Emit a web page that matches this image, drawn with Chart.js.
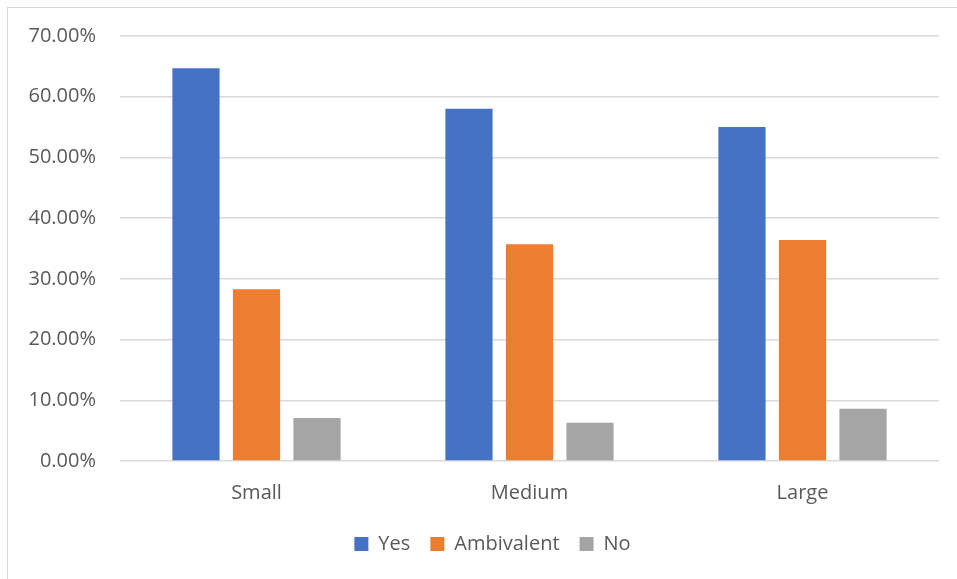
<!DOCTYPE html>
<html lang="en">
<head>
	<meta charset="UTF-8">
	<title>Yes / Ambivalent / No by size</title>
	<script src="https://cdn.jsdelivr.net/npm/chart.js"></script>
	<style>
		html, body { margin: 0; padding: 0; background: #fff; overflow: hidden; }
		#wrap { position: relative; width: 957px; height: 579px; }
		#frame { position: absolute; left: 7px; top: 7px; width: 980px; height: 600px; border: 1px solid #d9d9d9; box-sizing: border-box; }
		#wrap canvas { position: absolute; left: 0; top: 0; }
	</style>
</head>
<body>
	<div id="wrap">
		<div id="frame"></div>
		<canvas id="myChart" width="957" height="579"></canvas>
	</div>

	<script type="text/javascript">
		// data (percent)
		var categories = ['Small', 'Medium', 'Large'];
		var yesValues = [64.7, 58.0, 55.0];
		var ambivalentValues = [28.3, 35.7, 36.4];
		var noValues = [7.1, 6.3, 8.6];
		var yTicks = [0, 10, 20, 30, 40, 50, 60, 70];

		var textColor = '#595959';
		var fontFamily = '"Open Sans", "Noto Sans", sans-serif';

		Chart.defaults.font.family = fontFamily;
		Chart.defaults.font.size = 20;
		Chart.defaults.color = textColor;

		// the legend in the original sits a bit right of the canvas centre
		var legendShift = {
			id: 'legendShift',
			afterLayout: function(chart) {
				if (chart.legend) {
					chart.legend.left += 23;
					chart.legend.right += 23;
				}
			}
		};

		var ctx = document.getElementById('myChart');
		var myChart = new Chart(ctx, {
			type: 'bar',
			data: {
				labels: categories,
				datasets: [
					{ label: 'Yes', data: yesValues, backgroundColor: '#4472C4' },
					{ label: 'Ambivalent', data: ambivalentValues, backgroundColor: '#ED7D31' },
					{ label: 'No', data: noValues, backgroundColor: '#A5A5A5' }
				]
			},
			plugins: [legendShift],
			options: {
				responsive: false,
				animation: false,
				layout: { padding: { top: 36, right: 18, bottom: 15, left: 0 } },
				datasets: {
					bar: { categoryPercentage: 0.665, barPercentage: 0.78 }
				},
				scales: {
					x: {
						grid: { display: false, drawTicks: false },
						border: { display: false },
						ticks: { padding: 20 },
						afterFit: function(scale) { scale.height = 53; }
					},
					y: {
						min: yTicks[0],
						max: yTicks[yTicks.length - 1],
						afterBuildTicks: function(scale) {
							scale.ticks = yTicks.map(function(v) { return { value: v }; });
						},
						grid: { color: '#d9d9d9', lineWidth: 1.5, drawTicks: false },
						border: { display: false },
						ticks: {
							padding: 24,
							callback: function(v) { return v.toFixed(2) + '%'; }
						},
						afterFit: function(scale) { scale.width = 120; }
					}
				},
				plugins: {
					legend: {
						position: 'bottom',
						labels: { boxWidth: 14, boxHeight: 14, padding: 20, font: { size: 20 } }
					},
					tooltip: { enabled: false }
				}
			}
		});
	</script>
</body>
</html>
